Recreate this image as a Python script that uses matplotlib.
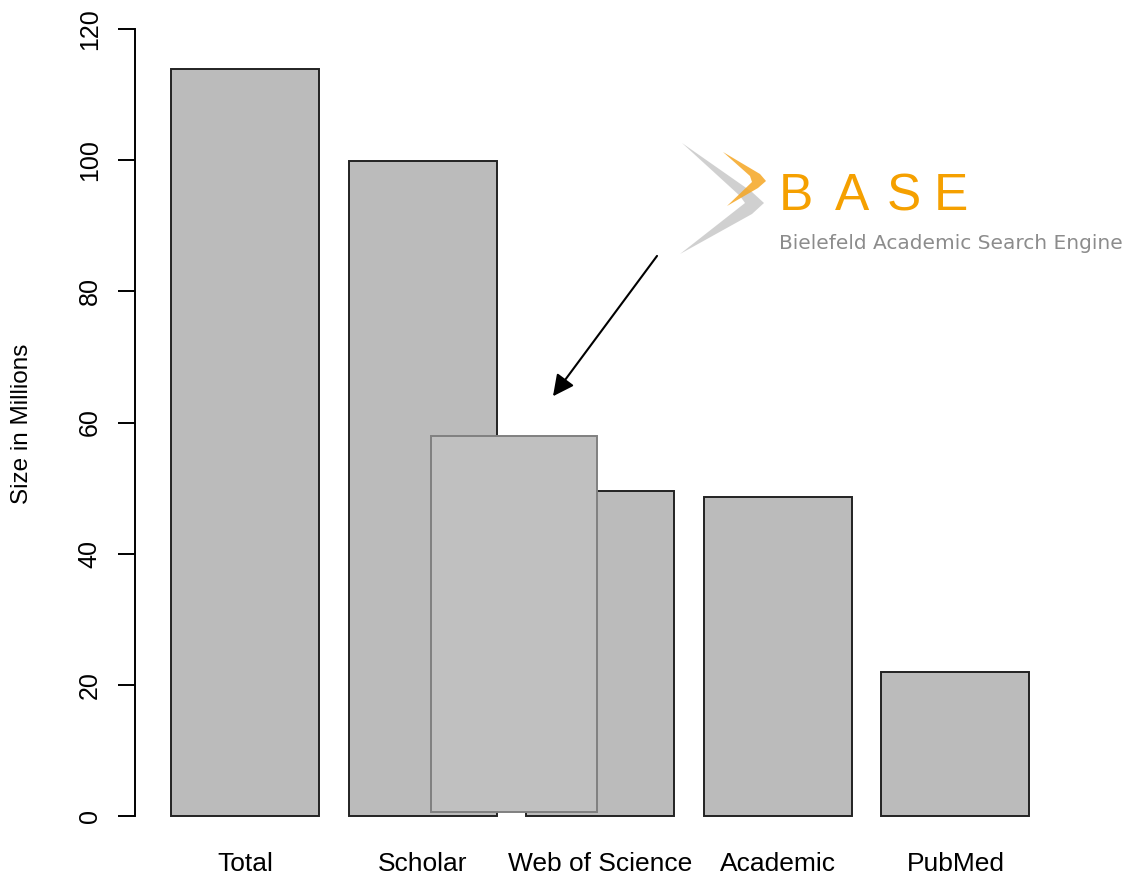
import matplotlib
matplotlib.use("Agg")
import matplotlib.pyplot as plt
from matplotlib.patches import Rectangle, Polygon
import numpy as np

# datos
categorias = ["Total", "Scholar", "Web of Science", "Academic", "PubMed"]
tamanos = [113.9, 99.9, 49.5, 48.7, 21.9]   # millones
base_valor = 58.0                              # BASE superpuesto
yticks = [0, 20, 40, 60, 80, 100, 120]

plt.rcParams['font.family'] = ['Liberation Sans', 'DejaVu Sans']

fig = plt.figure(figsize=(11.26, 8.76), dpi=100)
W, H = 1126, 876
ax = fig.add_axes([135 / W, (H - 816) / H, (W - 135) / W, (816 - 29) / H])

# estilo barplot de R: ancho 1, espacio 0.2
x = 0.7 + 1.2 * np.arange(len(categorias))
ax.bar(x, tamanos, width=1.0, color="#bbbbbb", edgecolor="#222222",
       linewidth=1.4, clip_on=False, zorder=2)

# barra BASE pegada encima
base_izq, base_der, base_fondo = 1.957, 3.078, 0.6
ax.add_patch(Rectangle((base_izq, base_fondo), base_der - base_izq,
                       base_valor - base_fondo, facecolor="#c0c0c0",
                       edgecolor="#808080", linewidth=1.4, zorder=3))

ax.annotate("", xy=(2.781, 64.0), xytext=(3.484, 85.4),
            arrowprops=dict(arrowstyle="-|>", color="black", lw=1.5,
                            mutation_scale=32, shrinkA=0, shrinkB=0),
            zorder=4)

ax.set_xlim((135 - 141.4) / 148, (W - 141.4) / 148)
ax.set_ylim(0, 120)
for s in ["top", "right", "bottom"]:
    ax.spines[s].set_visible(False)
ax.spines["left"].set_bounds(0, 120)
ax.spines["left"].set_linewidth(1.4)
ax.set_yticks(yticks)
ax.set_yticklabels([str(v) for v in yticks], fontsize=18)
ax.tick_params(axis="y", length=12, width=1.4, pad=12, labelrotation=90)
for lbl in ax.get_yticklabels():
    lbl.set_va("center")
ax.set_xticks(x)
ax.set_xticklabels(categorias, fontsize=19)
ax.tick_params(axis="x", length=0, pad=26)

fig.text(22 / W, 1 - 423.5 / H, "Size in Millions", rotation=90,
         ha="center", va="center", fontsize=17.5)

# logo BASE (decorativo)
def px(pts):
    return [(a / W, 1 - b / H) for a, b in pts]

fig.patches.append(Polygon(px([(682, 143), (752, 192), (764, 203), (752, 214),
                               (680, 254), (745, 203), (740, 196)]),
                           closed=True, facecolor="#bdbdbd", alpha=0.7,
                           edgecolor="none", transform=fig.transFigure))
fig.patches.append(Polygon(px([(723, 152), (760, 174), (766, 181), (758, 188),
                               (727, 206), (752, 182), (750, 176)]),
                           closed=True, facecolor="#f5a623", alpha=0.85,
                           edgecolor="none", transform=fig.transFigure))
for letra, cx in zip("BASE", [796, 852, 904, 951]):
    fig.text(cx / W, 1 - 197 / H, letra, ha="center", va="center",
             fontsize=37, color="#f5a000")
fig.text(779 / W, 1 - 244 / H, "Bielefeld Academic Search Engine",
         ha="left", va="center", fontsize=14.5, color="#8c8c8c",
         family="DejaVu Sans")

fig.savefig("out.png", dpi=100)
